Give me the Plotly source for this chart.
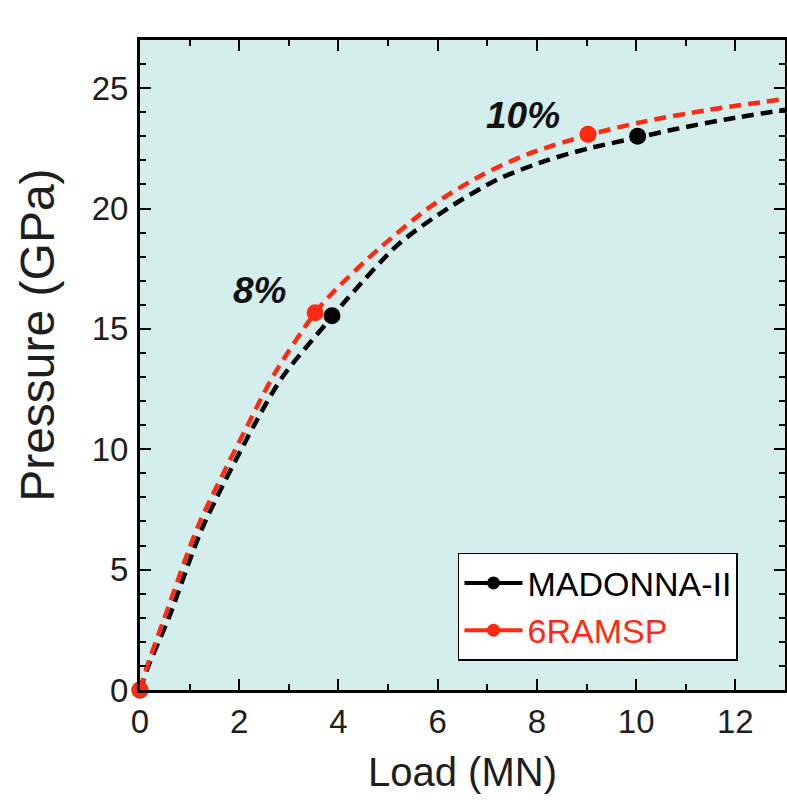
import plotly.graph_objects as go

# Curve data (Load in MN, Pressure in GPa)
madonna_load = [0, 0.15, 0.6, 1.25, 2.3, 2.87, 3.87, 4.2, 5.2, 6.2, 7.2, 8.2, 9.05, 10.03, 10.8, 11.8, 13.0]
madonna_pressure = [0, 0.9, 3.1, 6.7, 11.0, 13.0, 15.5, 16.3, 18.5, 20.0, 21.2, 22.0, 22.5, 22.95, 23.3, 23.7, 24.1]

ramsp_load = [0, 0.13, 0.53, 1.17, 2.17, 2.73, 3.53, 3.93, 4.8, 5.87, 6.9, 7.87, 9.03, 10.13, 11.47, 13.0]
ramsp_pressure = [0, 0.9, 3.2, 6.8, 11.0, 13.2, 15.67, 16.6, 18.3, 20.1, 21.4, 22.3, 23.05, 23.6, 24.1, 24.55]

# Marked points
madonna_pts_load = [0, 3.87, 10.03]
madonna_pts_pressure = [0, 15.55, 23.0]
ramsp_pts_load = [0, 3.53, 9.03]
ramsp_pts_pressure = [0, 15.67, 23.08]

labels = ["8%", "10%"]
label_load = [2.4, 7.72]
label_pressure = [16.6, 23.85]

BLACK = "#000000"
RED = "#ff2a10"
TXT = "#1e1e1e"
FONT = "Liberation Sans, Arial, sans-serif"

fig = go.Figure()
fig.add_trace(go.Scatter(x=madonna_load, y=madonna_pressure, mode="lines",
                         line=dict(color=BLACK, width=4.5, dash="12px,7px", shape="spline", smoothing=0.8),
                         showlegend=False, hoverinfo="skip"))
fig.add_trace(go.Scatter(x=ramsp_load, y=ramsp_pressure, mode="lines",
                         line=dict(color=RED, width=4.5, dash="12px,7px", shape="spline", smoothing=0.8),
                         showlegend=False, hoverinfo="skip"))
fig.add_trace(go.Scatter(x=madonna_pts_load, y=madonna_pts_pressure, mode="markers",
                         marker=dict(color=BLACK, size=17), showlegend=False, cliponaxis=False))
fig.add_trace(go.Scatter(x=ramsp_pts_load, y=ramsp_pts_pressure, mode="markers",
                         marker=dict(color=RED, size=17), showlegend=False, cliponaxis=False))
# legend entries
fig.add_trace(go.Scatter(x=[None], y=[None], mode="lines+markers", name="MADONNA-II",
                         line=dict(color=BLACK, width=4), marker=dict(color=BLACK, size=13)))
fig.add_trace(go.Scatter(x=[None], y=[None], mode="lines+markers",
                         name='<span style="color:%s">6RAMSP</span>' % RED,
                         line=dict(color=RED, width=4), marker=dict(color=RED, size=13)))

for t, lx, ly in zip(labels, label_load, label_pressure):
    fig.add_annotation(x=lx, y=ly, text="<b><i>%s</i></b>" % t, showarrow=False,
                       font=dict(family=FONT, size=37, color="#111111"))

# axis titles as text placed like the reference
fig.add_annotation(xref="paper", yref="paper", x=-0.158, y=0.545, textangle=-90,
                   text="Pressure (GPa)", showarrow=False, xanchor="center", yanchor="middle",
                   font=dict(family=FONT, size=48, color=TXT))
fig.add_annotation(xref="paper", yref="paper", x=0.5, y=-0.126,
                   text="Load (MN)", showarrow=False, xanchor="center", yanchor="middle",
                   font=dict(family=FONT, size=40, color=TXT))

axis_common = dict(showline=True, linecolor=BLACK, linewidth=3, mirror="allticks",
                   ticks="inside", ticklen=11, tickwidth=2, tickcolor=BLACK,
                   showgrid=False, zeroline=False, automargin=False,
                   tickfont=dict(family=FONT, size=33, color=TXT))

fig.update_xaxes(range=[0, 13], tickvals=[0, 2, 4, 6, 8, 10, 12],
                 minor=dict(ticks="inside", ticklen=6, tickwidth=2, tickcolor=BLACK, dtick=1, tick0=0),
                 ticklabelstandoff=0, **axis_common)
fig.update_yaxes(range=[0, 27], tickvals=[0, 5, 10, 15, 20, 25],
                 minor=dict(ticks="inside", ticklen=6, tickwidth=2, tickcolor=BLACK, dtick=1, tick0=0),
                 ticklabelstandoff=2, **axis_common)

fig.update_layout(
    width=787, height=800,
    margin=dict(l=140, r=2, t=40, b=110),
    paper_bgcolor="#ffffff", plot_bgcolor="#d4eded",
    legend=dict(x=0.493, y=0.211, xanchor="left", yanchor="top",
                bgcolor="#ffffff", bordercolor=BLACK, borderwidth=1.5,
                font=dict(family=FONT, size=34, color=BLACK),
                tracegroupgap=0, itemwidth=58),
)

fig.write_html("out.html", config={"displayModeBar": False},
               post_script="document.body.style.margin='0';")
